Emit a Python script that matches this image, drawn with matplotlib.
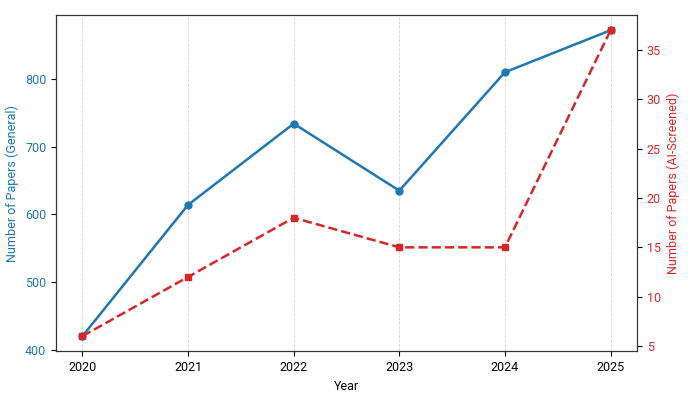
import matplotlib.pyplot as plt

plt.rcParams['font.family'] = ['Roboto', 'DejaVu Sans']

years = [2020, 2021, 2022, 2023, 2024, 2025]
general = [420, 614, 734, 635, 810, 872]
ai_screened = [6, 12, 18, 15, 15, 37]

fig, ax1 = plt.subplots(figsize=(7, 3.94), dpi=100)

ax1.plot(years, general, color='tab:blue', marker='o', markersize=5, linewidth=1.8)
ax1.set_xlabel('Year', fontsize=9)
ax1.set_ylabel('Number of Papers (General)', color='tab:blue', fontsize=9)
ax1.tick_params(axis='y', labelcolor='tab:blue', labelsize=9)
ax1.tick_params(axis='x', labelsize=9)
ax1.set_xticks(years)
ax1.grid(axis='x', linestyle='--', color='#d5d5d5', linewidth=0.6)

ax2 = ax1.twinx()
ax2.plot(years, ai_screened, color='tab:red', marker='s', markersize=5,
         linewidth=1.8, linestyle='--')
ax2.set_ylabel('Number of Papers (AI-Screened)', color='tab:red', fontsize=9)
ax2.tick_params(axis='y', labelcolor='tab:red', labelsize=9)

for ax in (ax1, ax2):
    for s in ax.spines.values():
        s.set_color('#333333')

plt.subplots_adjust(left=0.08, right=0.91, top=0.962, bottom=0.108)
fig.savefig('out.png', dpi=100)
